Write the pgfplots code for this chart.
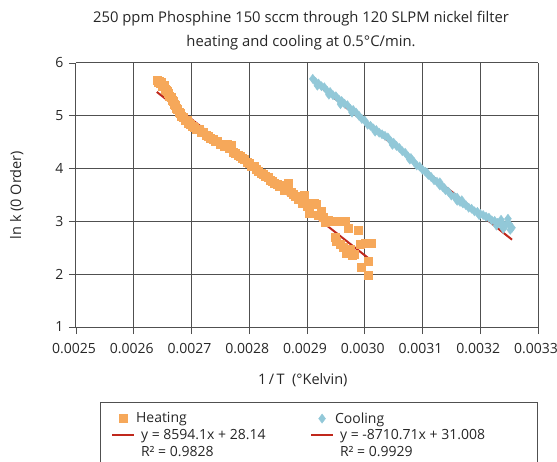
\documentclass[border=0pt]{standalone}
\usepackage{pgfplots}
\pgfplotsset{compat=1.18}
\usepackage{fontspec}
\setmainfont{Open Sans}
\definecolor{heat}{RGB}{246,168,90}
\definecolor{cool}{RGB}{146,200,216}
\definecolor{fitred}{RGB}{192,40,28}
\definecolor{gridc}{RGB}{80,80,80}
\pgfplotstableread{
x y
0.002640 5.68
0.002642 5.64
0.002644 5.66
0.002646 5.61
0.002648 5.63
0.002650 5.57
0.002652 5.58
0.002654 5.51
0.002656 5.49
0.002658 5.46
0.002660 5.42
0.002662 5.38
0.002664 5.36
0.002666 5.30
0.002668 5.28
0.002670 5.22
0.002672 5.20
0.002674 5.15
0.002676 5.12
0.002678 5.07
0.002680 5.05
0.002683 5.00
0.002686 4.97
0.002689 4.92
0.002692 4.91
0.002695 4.86
0.002698 4.85
0.002701 4.81
0.002705 4.79
0.002709 4.75
0.002713 4.74
0.002717 4.69
0.002721 4.68
0.002725 4.63
0.002729 4.62
0.002733 4.57
0.002737 4.56
0.002741 4.52
0.002745 4.51
0.002749 4.46
0.002753 4.47
0.002757 4.42
0.002761 4.47
0.002765 4.38
0.002768 4.44
0.002772 4.32
0.002776 4.30
0.002780 4.25
0.002784 4.24
0.002788 4.19
0.002792 4.17
0.002796 4.12
0.002800 4.10
0.002804 4.05
0.002808 4.04
0.002812 3.98
0.002816 3.95
0.002820 3.92
0.002824 3.89
0.002828 3.85
0.002832 3.84
0.002836 3.78
0.002840 3.76
0.002844 3.73
0.002848 3.70
0.002852 3.66
0.002856 3.69
0.002860 3.60
0.002864 3.62
0.002868 3.72
0.002872 3.55
0.002876 3.52
0.002880 3.47
0.002884 3.42
0.002888 3.45
0.002892 3.35
0.002896 3.50
0.002900 3.28
0.002904 3.16
0.002908 3.35
0.002912 3.34
0.002916 3.33
0.002920 3.11
0.002924 3.20
0.002928 3.08
0.002932 2.98
0.002936 3.02
0.002940 3.01
0.002944 3.00
0.002948 2.71
0.002950 2.62
0.002952 3.00
0.002956 3.00
0.002958 2.56
0.002962 2.52
0.002966 3.00
0.002968 2.40
0.002972 2.87
0.002974 2.47
0.002978 2.36
0.002982 2.38
0.002988 2.83
0.002992 2.57
0.002994 2.13
0.003000 2.58
0.003006 2.25
0.003008 2.58
0.003012 2.58
0.003006 1.99
}\heating
\pgfplotstableread{
x y
0.002910 5.70
0.002915 5.64
0.002920 5.61
0.002925 5.56
0.002930 5.54
0.002935 5.47
0.002940 5.45
0.002945 5.39
0.002950 5.37
0.002955 5.31
0.002960 5.28
0.002965 5.23
0.002970 5.20
0.002975 5.13
0.002980 5.11
0.002985 5.06
0.002990 5.00
0.002995 4.94
0.003000 4.91
0.003005 4.83
0.003010 4.81
0.003015 4.76
0.003020 4.73
0.003025 4.68
0.003030 4.65
0.003035 4.62
0.003040 4.59
0.003045 4.52
0.003050 4.49
0.003055 4.43
0.003060 4.39
0.003065 4.33
0.003070 4.30
0.003075 4.23
0.003080 4.20
0.003085 4.13
0.003090 4.06
0.003095 4.04
0.003100 3.98
0.003105 3.94
0.003110 3.88
0.003115 3.84
0.003120 3.78
0.003125 3.75
0.003130 3.68
0.003135 3.65
0.003140 3.59
0.003145 3.56
0.003150 3.49
0.003155 3.47
0.003160 3.39
0.003165 3.37
0.003170 3.34
0.003175 3.31
0.003180 3.26
0.003185 3.24
0.003190 3.19
0.003195 3.18
0.003200 3.14
0.003205 3.12
0.003210 3.09
0.003215 3.07
0.003220 3.02
0.003225 3.01
0.003230 2.97
0.003235 2.95
0.003240 2.94
0.003245 2.94
0.003250 2.95
0.003255 2.88
0.003248 3.05
0.003252 2.84
0.003240 2.86
0.003236 3.03
0.003160 3.45
0.003130 3.74
0.002918 5.57
0.002938 5.40
0.002958 5.22
0.002978 5.06
0.003018 4.70
0.003048 4.45
0.003078 4.17
0.003108 3.92
0.003138 3.63
0.003168 3.40
0.003198 3.12
0.003228 2.92
}\cooling
\begin{document}
\begin{tikzpicture}
\useasboundingbox (0,0) rectangle (557pt,-462pt);
\node[font=\fontsize{14.8}{24.4}\selectfont, align=center, text=black!85] at (301pt,-30.5pt)
  {250 ppm Phosphine 150 sccm through 120 SLPM nickel filter\\heating and cooling at 0.5°C/min.};
\draw[gridc, line width=0.8pt] (100pt,-480pt) -- (100pt,-402pt) -- (537pt,-402pt) -- (537pt,-480pt);
\begin{axis}[
  at={(76pt,-327pt)}, anchor=south west, scale only axis,
  width=462pt, height=264pt,
  xmin=0.0025, xmax=0.0033, ymin=1, ymax=6,
  scaled x ticks=false,
  xtick={0.0025,0.0026,0.0027,0.0028,0.0029,0.003,0.0031,0.0032,0.0033},
  xticklabels={0.0025,0.0026,0.0027,0.0028,0.0029,0.0030,0.0031,0.0032,0.0033},
  ytick={1,2,3,4,5,6},
  axis x line*=bottom, axis y line*=left,
  axis line style={draw=gridc, line width=1pt},
  grid=major,
  grid style={draw=gridc, line width=1pt},
  tick style={draw=gridc, line width=0.8pt},
  tick align=outside,
  major tick length=7pt,
  /pgf/number format/assume math mode=true,
  tick label style={font=\fontsize{14}{16}\selectfont, text=black!85},
  xticklabel style={yshift=-6pt, xshift=-2pt},
  yticklabel style={xshift=-2pt},
  xlabel={1\,/\,T\ \ (°Kelvin)}, ylabel={ln k (0 Order)},
  label style={font=\fontsize{14.5}{16}\selectfont, text=black!85},
  xlabel style={at={(axis description cs:0.491,-0.2015)}, anchor=center},
  ylabel style={at={(axis description cs:-0.128,0.5)}, anchor=center},
  legend columns=2, legend cell align=left,
  legend style={at={(0.069,-0.308)}, anchor=north west, draw=none, fill=none,
    font=\fontsize{14}{16}\selectfont, text=black!85, row sep=1pt},
  legend image code/.code={\draw[mark repeat=2,mark phase=2,#1] plot coordinates {(0pt,0pt) (11pt,0pt) (22pt,0pt)};},
]
\addplot[only marks, mark=square*, mark size=4pt, mark options={draw=heat, fill=heat}] table {\heating};
\addlegendentry{\makebox[171pt][l]{\hspace*{-1pt}Heating}}
\addplot[only marks, mark=diamond*, mark size=4.6pt, mark options={draw=cool, fill=cool}] table {\cooling};
\addlegendentry{\hspace*{-1pt}Cooling}
\addplot[draw=fitred, line width=2pt] coordinates {(0.00264,5.4516) (0.00301,2.2718)};
\addlegendentry{\makebox[171pt][l]{\hspace*{4pt}y = 8594.1x + 28.14}}
\addplot[draw=fitred, line width=2pt] coordinates {(0.002908,5.677) (0.003255,2.654)};
\addlegendentry{\hspace*{4pt}y = -8710.71x + 31.008}
\addlegendimage{empty legend}
\addlegendentry{\makebox[171pt][l]{\hspace*{4pt}R² = 0.9828}}
\addlegendimage{empty legend}
\addlegendentry{\hspace*{4pt}R² = 0.9929}
\end{axis}
\end{tikzpicture}
\end{document}
